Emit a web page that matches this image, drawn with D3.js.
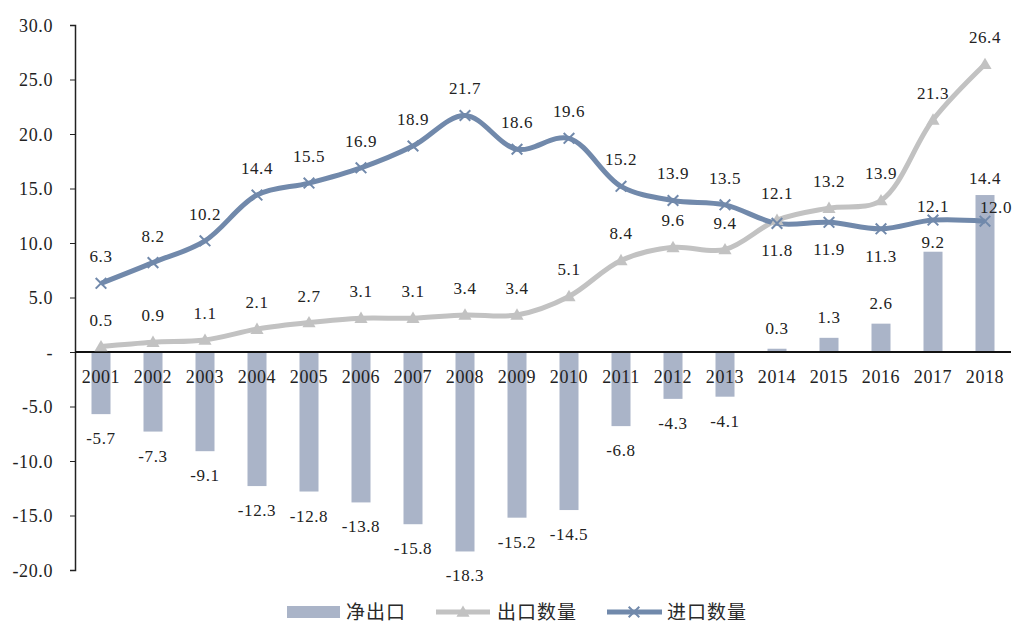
<!DOCTYPE html>
<html lang="zh-CN">
<head>
<meta charset="utf-8">
<title>净出口 出口数量 进口数量</title>
<script src="https://d3js.org/d3.v7.min.js"></script>
<style>
  body { margin: 0; background: #fff; }
  #chart text { font-family: "Liberation Serif", "Times New Roman", serif; fill: #222; letter-spacing: 0.6px; }
  #chart .legend text { font-family: "Noto Sans CJK SC", sans-serif; font-size: 19px; fill: #2a2a2a; letter-spacing: 1px; }
</style>
</head>
<body>
<div id="chart"></div>
<script>
"use strict"

// data
var years = ["2001","2002","2003","2004","2005","2006","2007","2008","2009",
             "2010","2011","2012","2013","2014","2015","2016","2017","2018"];
var netExport = [-5.7,-7.3,-9.1,-12.3,-12.8,-13.8,-15.8,-18.3,-15.2,-14.5,-6.8,-4.3,-4.1,0.3,1.3,2.6,9.2,14.4];
var exportQty = [0.5,0.9,1.1,2.1,2.7,3.1,3.1,3.4,3.4,5.1,8.4,9.6,9.4,12.1,13.2,13.9,21.3,26.4];
var importQty = [6.3,8.2,10.2,14.4,15.5,16.9,18.9,21.7,18.6,19.6,15.2,13.9,13.5,11.8,11.9,11.3,12.1,12.0];
var yTicks = [-20,-15,-10,-5,0,5,10,15,20,25,30];
var seriesNames = ["净出口","出口数量","进口数量"];

var W = 1013, H = 626;
var margin = {top: 25, right: 2, bottom: 56, left: 75};

var barColor = "#aab4c8", expColor = "#c2c2c2", impColor = "#7189ab";

var svg = d3.select("#chart").append("svg")
  .attr("width", W).attr("height", H);

var x = d3.scaleBand().domain(years).range([margin.left, W - margin.right]);
var y = d3.scaleLinear().domain([-20, 30]).range([H - margin.bottom, margin.top]);
var cx = function(i) { return x(years[i]) + x.bandwidth() / 2; };

// excel style numbers: plain hyphen for negatives
var fmt = function(d) { return d3.format(".1f")(d).replace("−", "-"); };

// y axis
var yAxis = svg.append("g")
  .attr("transform", "translate(" + margin.left + ",0)")
  .call(d3.axisLeft(y).tickValues(yTicks).tickSizeOuter(0).tickSize(5).tickPadding(17)
    .tickFormat(function(d) { return d === 0 ? "-" : fmt(d); }));
yAxis.select(".domain").attr("stroke", "#222").attr("stroke-width", 1.5);
yAxis.selectAll(".tick line").attr("stroke", "#222");
yAxis.selectAll("text").style("font-size", "18px").attr("fill", "#222").attr("dy", "0.35em");

// bars
svg.append("g").selectAll("rect").data(netExport).enter().append("rect")
  .attr("x", function(d, i) { return cx(i) - 9.5; })
  .attr("width", 19)
  .attr("y", function(d) { return y(Math.max(0, d)); })
  .attr("height", function(d) { return Math.abs(y(d) - y(0)); })
  .attr("fill", barColor);

// x axis line at zero
svg.append("line")
  .attr("x1", margin.left).attr("x2", W - margin.right)
  .attr("y1", y(0)).attr("y2", y(0))
  .attr("stroke", "#111").attr("stroke-width", 2);

// year labels
svg.append("g").selectAll("text").data(years).enter().append("text")
  .attr("x", function(d, i) { return cx(i); })
  .attr("y", y(0) + 31)
  .attr("text-anchor", "middle")
  .style("font-size", "18px")
  .text(function(d) { return d; });

// lines
var line = d3.line()
  .x(function(d, i) { return cx(i); })
  .y(function(d) { return y(d); })
  .curve(d3.curveCatmullRom.alpha(0.5));

svg.append("path").datum(exportQty)
  .attr("d", line).attr("fill", "none")
  .attr("stroke", expColor).attr("stroke-width", 5).attr("stroke-linejoin", "round");

svg.append("path").datum(importQty)
  .attr("d", line).attr("fill", "none")
  .attr("stroke", impColor).attr("stroke-width", 5).attr("stroke-linejoin", "round");

// markers
var tri = d3.symbol().type(d3.symbolTriangle).size(75);
svg.append("g").selectAll("path").data(exportQty).enter().append("path")
  .attr("d", tri)
  .attr("transform", function(d, i) { return "translate(" + cx(i) + "," + (y(d) + 1) + ")"; })
  .attr("fill", expColor);

var cross = d3.symbol().type(d3.symbolX).size(75);
svg.append("g").selectAll("path").data(importQty).enter().append("path")
  .attr("d", cross)
  .attr("transform", function(d, i) { return "translate(" + cx(i) + "," + y(d) + ")"; })
  .attr("fill", "none").attr("stroke", impColor).attr("stroke-width", 2);

// data labels
var importBelow = {"2014": 1, "2015": 1, "2016": 1};

svg.append("g").selectAll("text").data(netExport).enter().append("text")
  .attr("x", function(d, i) { return cx(i); })
  .attr("y", function(d, i) {
    if (d < 0) return y(d) + 30;
    if (years[i] === "2017") return y(d) - 4;
    if (years[i] === "2018") return y(d) - 11;
    return y(d) - 15;
  })
  .attr("text-anchor", "middle")
  .style("font-size", "17px")
  .text(function(d) { return fmt(d); });

svg.append("g").selectAll("text").data(exportQty).enter().append("text")
  .attr("x", function(d, i) { return cx(i); })
  .attr("y", function(d) { return y(d) - 21; })
  .attr("text-anchor", "middle")
  .style("font-size", "17px")
  .text(function(d) { return fmt(d); });

svg.append("g").selectAll("text").data(importQty).enter().append("text")
  .attr("x", function(d, i) { return cx(i) + (years[i] === "2018" ? 11 : 0); })
  .attr("y", function(d, i) {
    if (importBelow[years[i]]) return y(d) + 33;
    if (years[i] === "2017" || years[i] === "2018") return y(d) - 8;
    return y(d) - 21;
  })
  .attr("text-anchor", "middle")
  .style("font-size", "17px")
  .text(function(d) { return fmt(d); });

// legend
var lg = svg.append("g").attr("class", "legend").attr("transform", "translate(0,612)");
lg.append("rect").attr("x", 287).attr("y", -6).attr("width", 53).attr("height", 12).attr("fill", barColor);
lg.append("text").attr("x", 346).attr("y", 7).text(seriesNames[0]);

lg.append("line").attr("x1", 436).attr("x2", 490).attr("y1", 0).attr("y2", 0)
  .attr("stroke", expColor).attr("stroke-width", 5);
lg.append("path").attr("d", tri).attr("transform", "translate(463,1)").attr("fill", expColor);
lg.append("text").attr("x", 497).attr("y", 7).text(seriesNames[1]);

lg.append("line").attr("x1", 607).attr("x2", 662).attr("y1", 0).attr("y2", 0)
  .attr("stroke", impColor).attr("stroke-width", 5);
lg.append("path").attr("d", cross).attr("transform", "translate(634,0)")
  .attr("fill", "none").attr("stroke", impColor).attr("stroke-width", 2);
lg.append("text").attr("x", 667).attr("y", 7).text(seriesNames[2]);
</script>
</body>
</html>
